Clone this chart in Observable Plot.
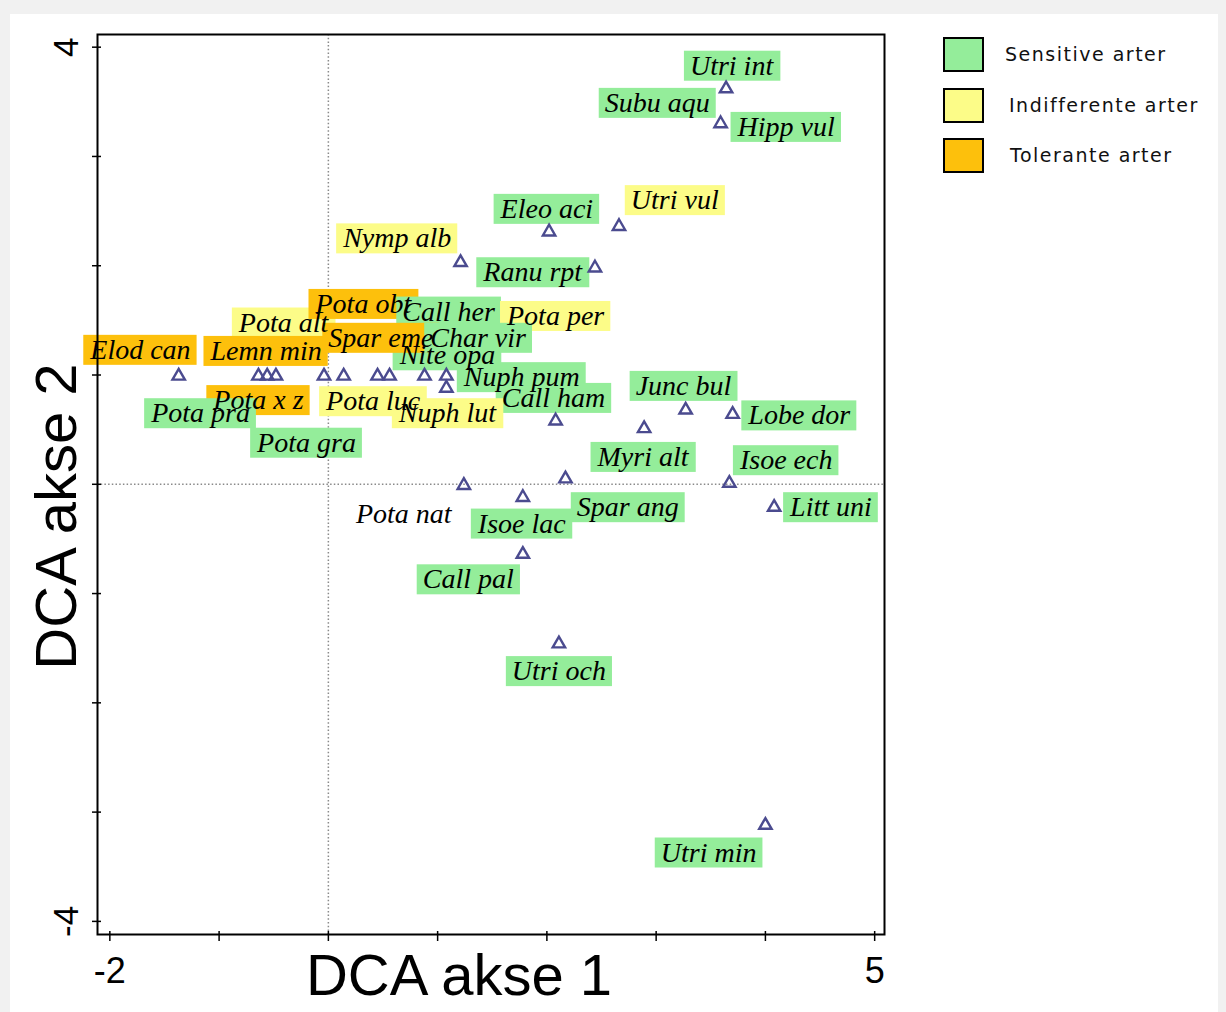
<!DOCTYPE html>
<html>
<head>
<meta charset="utf-8">
<script src="https://cdn.jsdelivr.net/npm/d3@7"></script>
<script src="https://cdn.jsdelivr.net/npm/@observablehq/plot@0.6"></script>
<style>
  html, body { margin: 0; padding: 0; background: #f1f1f1; }
  #wrap { position: relative; width: 1226px; height: 1012px; overflow: hidden; }
  #card { position: absolute; left: 10px; top: 14px; width: 1208px; height: 998px; background: #fff; }
  #wrap svg { position: absolute; left: 0; top: 0; }
  .legend { position: absolute; left: 943px; top: 37px; font-family: "DejaVu Sans", sans-serif; font-size: 19px; color: #111; }
  .legend .row { position: relative; height: 50.5px; }
  .legend .sw { position: absolute; left: 0; top: 0; width: 37px; height: 31px; border: 2px solid #000; }
  .legend .lb { position: absolute; top: 17px; transform: translateY(-50%); letter-spacing: 1.5px; white-space: nowrap; }
</style>
</head>
<body>
<div id="wrap"><div id="card"></div></div>
<script>
// ---- triangles (species scores on DCA axes) ----
const pointX = [3.64, 3.59, 2.66, 2.02, 2.44, 1.21, -1.37, -0.64, -0.56, -0.48, -0.04, 0.14, 0.45, 0.56, 0.88, 1.08, 1.08, 2.08, 3.27, 3.70, 2.89, 3.67, 4.08, 1.24, 1.78, 2.17, 1.78, 2.11, 4.00];
const pointY = [3.62, 3.30, 2.36, 2.31, 1.98, 2.03, 0.99, 0.99, 0.99, 0.99, 0.99, 0.99, 0.99, 0.99, 0.99, 0.99, 0.88, 0.58, 0.68, 0.64, 0.51, 0.01, -0.21, -0.01, -0.12, 0.05, -0.64, -1.46, -3.12];

// ---- species labels ----
const labelNames  = ["Utri int","Subu aqu","Hipp vul","Eleo aci","Utri vul","Nymp alb","Ranu rpt","Pota alt","Pota obt","Call her","Pota per","Elod can","Lemn min","Nite opa","Spar eme","Char vir","Nuph pum","Call ham","Junc bul","Pota x z","Pota pra","Pota luc","Nuph lut","Lobe dor","Pota gra","Myri alt","Isoe ech","Pota nat","Spar ang","Litt uni","Isoe lac","Call pal","Utri och","Utri min"];
const labelGroups = ["S","S","S","S","I","I","S","I","T","S","I","T","T","S","T","S","S","S","S","T","S","I","I","S","S","S","S","N","S","S","S","S","S","S"];
const labelX = [3.69, 3.01, 4.19, 2.00, 3.17, 0.63, 1.87, -0.41, 0.32, 1.10, 2.08, -1.72, -0.57, 1.09, 0.48, 1.37, 1.77, 2.06, 3.25, -0.64, -1.17, 0.41, 1.09, 4.31, -0.20, 2.88, 4.19, 0.69, 2.74, 4.60, 1.77, 1.28, 2.11, 3.48];
const labelY = [3.83, 3.49, 3.27, 2.52, 2.60, 2.25, 1.94, 1.48, 1.65, 1.58, 1.54, 1.23, 1.22, 1.18, 1.34, 1.34, 0.98, 0.79, 0.90, 0.77, 0.65, 0.76, 0.65, 0.63, 0.38, 0.25, 0.22, -0.27, -0.21, -0.21, -0.36, -0.87, -1.71, -3.37];

// ---- axes ----
const xTicks = [-2, -1, 0, 1, 2, 3, 4, 5];
const xTickLabels = [-2, 5];
const yTicks = [-4, -3, -2, -1, 0, 1, 2, 3, 4];
const yTickLabels = [4, -4];
const xTitle = "DCA akse 1";
const yTitle = "DCA akse 2";

// ---- legend ----
const groupKeys = ["S", "I", "T"];
const groupNames = ["Sensitive arter", "Indifferente arter", "Tolerante arter"];
const groupColor = {S: "#94ed9a", I: "#fcfc88", T: "#fdc00c"};

const points = pointX.map((x, i) => ({x, y: pointY[i]}));
const labels = labelNames.map((name, i) => ({name, group: labelGroups[i], x: labelX[i], y: labelY[i]}));

const sans = "'Liberation Sans', Arial, sans-serif";

const plot = Plot.plot({
  width: 1226,
  height: 1012,
  marginLeft: 97,
  marginRight: 342,
  marginTop: 34,
  marginBottom: 78,
  x: {domain: [-2.113, 5.09]},
  y: {domain: [-4.12, 4.116]},
  style: {background: "transparent", color: "#000"},
  marks: [
    Plot.ruleX([0], {stroke: "#8a8a8a", strokeWidth: 1.5, strokeDasharray: "1.5,2.2"}),
    Plot.ruleY([0], {stroke: "#8a8a8a", strokeWidth: 1.5, strokeDasharray: "1.5,2.2"}),
    Plot.text(labels, {
      x: "x", y: "y", text: "name",
      fontFamily: "'Liberation Serif', 'Times New Roman', serif",
      fontStyle: "italic", fontSize: 28, fill: "#000"
    }),
    Plot.frame({stroke: "#000", strokeWidth: 2}),
    Plot.axisX(xTicks, {
      tickSize: 10, dy: -3, tickPadding: 16, strokeWidth: 1.5,
      tickFormat: d => xTickLabels.includes(d) ? String(d) : "",
      fontSize: 36, fontFamily: sans, label: null
    }),
    Plot.axisY(yTicks, {
      tickSize: 9, dx: 4, strokeWidth: 1.5,
      tickFormat: () => "", label: null
    }),
    Plot.text(yTickLabels, {
      y: d => d, text: d => String(d), frameAnchor: "left", textAnchor: "middle", rotate: -90,
      dx: -31, fontSize: 35, fontFamily: sans, fill: "#000"
    }),
    Plot.text([xTitle], {
      text: d => d, frameAnchor: "bottom", textAnchor: "middle", lineAnchor: "bottom", dx: -32, dy: 60,
      fontSize: 58, fontFamily: sans, fill: "#000"
    }),
    Plot.text([yTitle], {
      text: d => d, frameAnchor: "left", textAnchor: "middle", rotate: -90, dx: -40, dy: 32,
      fontSize: 58, fontFamily: sans, fill: "#000"
    }),
    Plot.dot(points, {
      x: "x", y: "y", symbol: "triangle", r: 4.6,
      stroke: "#4b4b8f", strokeWidth: 2.4, fill: "none"
    })
  ]
});

const wrap = document.getElementById("wrap");
wrap.appendChild(plot);

// coloured boxes behind the species labels (all boxes first, then all texts), sized from the rendered text
const svgNS = "http://www.w3.org/2000/svg";
const labelSet = new Set(labelNames);
const texts = Array.from(plot.querySelectorAll("text")).filter(t => labelSet.has(t.textContent));
if (texts.length) {
  const first = texts[0];
  const parent = first.parentNode;
  texts.forEach((t, i) => {
    const lab = labels[i];
    if (!lab) return;
    const col = groupColor[lab.group];
    if (!col) return;
    const b = t.getBBox();
    const r = document.createElementNS(svgNS, "rect");
    r.setAttribute("x", b.x - 6);
    r.setAttribute("y", b.y + 1);
    r.setAttribute("width", b.width + 12);
    r.setAttribute("height", b.height - 1);
    r.setAttribute("fill", col);
    r.setAttribute("stroke", "none");
    const tr = t.getAttribute("transform");
    if (tr) r.setAttribute("transform", tr);
    parent.insertBefore(r, first);
  });
}

// legend
const legend = document.createElement("div");
legend.className = "legend";
const offsets = [62, 66, 67];
groupKeys.forEach((k, i) => {
  const row = document.createElement("div");
  row.className = "row";
  const sw = document.createElement("div");
  sw.className = "sw";
  sw.style.background = groupColor[k];
  const lb = document.createElement("div");
  lb.className = "lb";
  lb.style.left = offsets[i] + "px";
  lb.textContent = groupNames[i];
  row.appendChild(sw);
  row.appendChild(lb);
  legend.appendChild(row);
});
wrap.appendChild(legend);
</script>
</body>
</html>
